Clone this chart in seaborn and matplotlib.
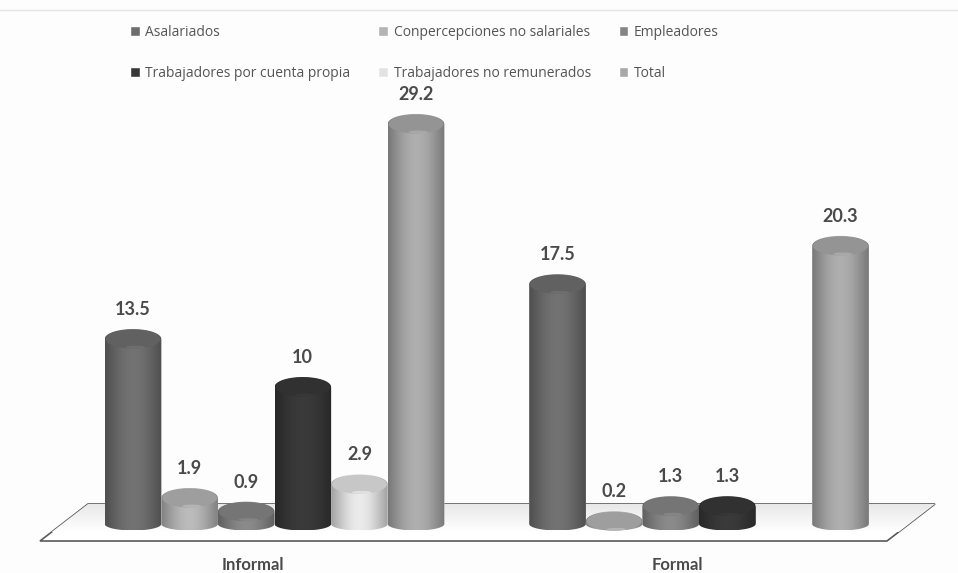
import numpy as np
import pandas as pd
import matplotlib
matplotlib.use("Agg")
import matplotlib.pyplot as plt
from matplotlib.patches import Polygon, Ellipse, PathPatch
from matplotlib.path import Path
from matplotlib.lines import Line2D
from matplotlib.transforms import ScaledTranslation
import seaborn as sns

sectors = ["Informal", "Formal"]
occupations = ["Asalariados", "Conpercepciones no salariales", "Empleadores",
               "Trabajadores por cuenta propia", "Trabajadores no remunerados", "Total"]
informal_values = [13.5, 1.9, 0.9, 10, 2.9, 29.2]
formal_values = [17.5, 0.2, 1.3, 1.3, np.nan, 20.3]
shades = ["#6e6e6e", "#b4b4b4", "#858585", "#383838", "#e2e2e2", "#a8a8a8"]

W, H = 958, 573
BG = "#fdfdfd"
TEXT = "#4a4a4a"
PX_PER_UNIT = 13.7
BASE_PX = 524          # pixel row of the value axis zero
AXES_BOTTOM_PX = 546
TOP_RY = 10 / PX_PER_UNIT
BOTTOM_RY = 6.5 / PX_PER_UNIT

sns.set_theme(style="white")
plt.rcParams["font.family"] = ["Open Sans", "DejaVu Sans"]

records = pd.DataFrame({
    "sector": np.repeat(sectors, len(occupations)),
    "occupation": occupations * 2,
    "value": informal_values + formal_values,
})

fig = plt.figure(figsize=(W / 100, H / 100), dpi=100, facecolor=BG)
ax = fig.add_axes([0, (H - AXES_BOTTOM_PX) / H, 1, AXES_BOTTOM_PX / H], facecolor="none")

sns.barplot(data=records, x="sector", y="value", hue="occupation",
            hue_order=occupations, palette=shades, width=0.8, gap=0,
            saturation=1, errorbar=None, ax=ax)

# Data limits: one category spans 424.5 px, category 0 is centred at 274.5 px
XLIM = (-274.5 / 424.5, (W - 274.5) / 424.5)
YLIM = ((BASE_PX - AXES_BOTTOM_PX) / PX_PER_UNIT, BASE_PX / PX_PER_UNIT)
ax.set_xlim(XLIM)
ax.set_ylim(YLIM)


def to_xy(px, py):
    return ((px - 274.5) / 424.5, (BASE_PX - py) / PX_PER_UNIT)


# Floor plane under the columns, with a soft shadow towards the back
floor_px = [(88, 504), (935, 504), (887, 541), (40, 541)]
floor = Polygon([to_xy(*p) for p in floor_px], closed=True, facecolor="white",
                edgecolor="#5a5a5a", linewidth=1.2, zorder=1, clip_on=False)
ax.add_patch(floor)
x_a, y_a = to_xy(40, 504)
x_b, y_b = to_xy(935, 532)
fade = np.linspace(0.91, 1.0, 64)[:, None, None] * np.ones((64, 1, 3))
shadow = ax.imshow(fade, extent=(x_a, x_b, y_b, y_a), origin="upper", aspect="auto",
                   zorder=1.1, interpolation="bilinear")
shadow.set_clip_path(floor)

# Replace each flat bar with a shaded cylinder built from the bar's own geometry
u = np.linspace(0, 1, 128)
profile = 0.72 + 0.32 * np.sin(np.pi * u) ** 1.1

for n, container in enumerate(ax.containers):
    for rect, value in zip(container.patches, container.datavalues):
        if np.isnan(value):
            continue
        x0, w, h = rect.get_x(), rect.get_width(), rect.get_height()
        cx = x0 + w / 2
        t = np.linspace(0, np.pi, 60)
        top = np.column_stack([cx - w / 2 * np.cos(t), h + TOP_RY * np.sin(t)])
        bottom = np.column_stack([cx + w / 2 * np.cos(t), 0 - BOTTOM_RY * np.sin(t)])
        outline = np.vstack([top, bottom, top[:1]])
        clip = PathPatch(Path(outline), transform=ax.transData)

        rect.set_zorder(2 + n * 0.1)
        rect.set_clip_path(clip)

        base = np.array(matplotlib.colors.to_rgb(rect.get_facecolor()))
        shaded = np.clip(base[None, None, :] * profile[None, :, None], 0, 1)
        image = ax.imshow(shaded, extent=(x0, x0 + w, -BOTTOM_RY, h + TOP_RY),
                          aspect="auto", zorder=2.01 + n * 0.1, interpolation="bilinear")
        image.set_clip_path(clip)

        # Top face, slightly darker than the side, with a faint glint on its front rim
        cap = Ellipse((cx, h), w * 0.97, 1.9 * TOP_RY, facecolor=base * 0.88,
                      edgecolor="none", zorder=2.02 + n * 0.1)
        ax.add_patch(cap)
        glint = Ellipse((cx + w * 0.04, h - TOP_RY * 0.8), w * 0.34, TOP_RY * 0.28,
                        facecolor=np.clip(base * 1.15, 0, 1), edgecolor="none",
                        alpha=0.45, zorder=2.03 + n * 0.1)
        glint.set_clip_path(clip)
        ax.add_patch(glint)

    ax.bar_label(container, fmt="%g", padding=15, fontsize=13, fontweight="bold",
                 color=TEXT, family=["Lato", "DejaVu Sans"], zorder=6)

ax.set_xlim(XLIM)
ax.set_ylim(YLIM)

ax.set_xlabel("")
ax.set_ylabel("")
ax.set_yticks([])
ax.tick_params(axis="x", length=0, pad=8)
# Category names sit a little left of the group centres
shift = ScaledTranslation(-22 / 100, 0, fig.dpi_scale_trans)
for label in ax.get_xticklabels():
    label.set_fontsize(12)
    label.set_fontweight("bold")
    label.set_family(["Lato", "DejaVu Sans"])
    label.set_color(TEXT)
    label.set_transform(label.get_transform() + shift)
sns.despine(ax=ax, left=True, bottom=True)

# Legend reads row by row, so feed it column by column
handles, names = ax.get_legend_handles_labels()
order = [0, 3, 1, 4, 2, 5]
ax.legend([handles[i] for i in order], [names[i] for i in order], ncol=3,
          loc="upper left", bbox_to_anchor=(126 / W, 1 - 21 / H), bbox_transform=fig.transFigure,
          frameon=False, fontsize=10, labelcolor="#555555", handlelength=0.7, handleheight=0.7,
          handletextpad=0.4, columnspacing=2.0, labelspacing=1.85, borderpad=0.3, borderaxespad=0)

# Hairline along the top of the page
fig.add_artist(Line2D([0, 1], [1 - 9.5 / H] * 2, color="#e4e4e4", linewidth=1,
                      transform=fig.transFigure))

fig.savefig("out.png", dpi=100, facecolor=BG)
